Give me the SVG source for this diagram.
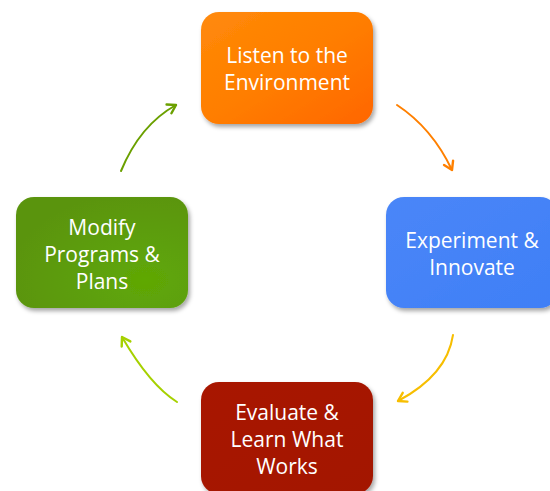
<svg xmlns="http://www.w3.org/2000/svg" width="550" height="491" viewBox="0 0 550 491">
<style>
.lbl{font-family:"Open Sans","Noto Sans","Liberation Sans",sans-serif;font-size:21px;fill:#ffffff;text-anchor:middle}
.arr{fill:none;stroke-width:2;stroke-linecap:round}
</style>
<defs>
<filter id="sh" x="-10%" y="-10%" width="130%" height="130%">
<feDropShadow dx="2" dy="3" stdDeviation="2" flood-color="#000" flood-opacity="0.35"/>
</filter>
<linearGradient id="gO" x1="0" y1="0" x2="1" y2="1">
<stop offset="0" stop-color="#FF8A0A"/><stop offset="0.5" stop-color="#FF7E00"/><stop offset="1" stop-color="#FF6600"/>
</linearGradient>
<linearGradient id="gB" x1="0" y1="0" x2="1" y2="1">
<stop offset="0" stop-color="#4A86F8"/><stop offset="1" stop-color="#3F7FF6"/>
</linearGradient>
<linearGradient id="gR" x1="0" y1="0" x2="1" y2="1">
<stop offset="0" stop-color="#A81800"/><stop offset="1" stop-color="#A31600"/>
</linearGradient>
<radialGradient id="gG" cx="0.75" cy="0.75" r="0.8">
<stop offset="0" stop-color="#5FA805"/><stop offset="1" stop-color="#5A9410"/>
</radialGradient>
<marker id="mO" markerUnits="userSpaceOnUse" markerWidth="20" markerHeight="20" refX="0" refY="0" viewBox="-10 -10 20 20" orient="auto" overflow="visible"><path d="M-8,-5 L0,0 L-8,5" fill="none" stroke="#FF8000" stroke-width="2.4" stroke-linecap="round" stroke-linejoin="round"/></marker>
<marker id="mY" markerUnits="userSpaceOnUse" markerWidth="20" markerHeight="20" refX="0" refY="0" viewBox="-10 -10 20 20" orient="auto" overflow="visible"><path d="M-8,-5 L0,0 L-8,5" fill="none" stroke="#F7BE00" stroke-width="2.4" stroke-linecap="round" stroke-linejoin="round"/></marker>
<marker id="mL" markerUnits="userSpaceOnUse" markerWidth="20" markerHeight="20" refX="0" refY="0" viewBox="-10 -10 20 20" orient="auto" overflow="visible"><path d="M-8,-5 L0,0 L-8,5" fill="none" stroke="#A6D100" stroke-width="2.4" stroke-linecap="round" stroke-linejoin="round"/></marker>
<marker id="mG" markerUnits="userSpaceOnUse" markerWidth="20" markerHeight="20" refX="0" refY="0" viewBox="-10 -10 20 20" orient="auto" overflow="visible"><path d="M-8,-5 L0,0 L-8,5" fill="none" stroke="#6BA000" stroke-width="2.4" stroke-linecap="round" stroke-linejoin="round"/></marker>
</defs>
<g id="connectors">
<path class="arr" d="M397,105 Q432,128 452,170" stroke="#FF8000" marker-end="url(#mO)"/>
<path class="arr" d="M453,335 Q447,375 398,401" stroke="#F7BE00" marker-end="url(#mY)"/>
<path class="arr" d="M177,402 Q150,385 122,337" stroke="#A6D100" marker-end="url(#mL)"/>
<path class="arr" d="M121,171 Q140,125 176,105" stroke="#6BA000" marker-end="url(#mG)"/>
</g>
<g id="node-listen">
<rect x="201" y="12" width="172" height="112" rx="18" fill="url(#gO)" filter="url(#sh)"/>
<text class="lbl" x="287" y="62.5">Listen to the</text>
<text class="lbl" x="287" y="89.5">Environment</text>
</g>
<g id="node-experiment">
<rect x="386" y="197" width="172" height="111" rx="18" fill="url(#gB)" filter="url(#sh)"/>
<text class="lbl" x="472" y="247.5">Experiment &amp;</text>
<text class="lbl" x="472" y="274.5">Innovate</text>
</g>
<g id="node-evaluate">
<rect x="201" y="382" width="172" height="112" rx="18" fill="url(#gR)" filter="url(#sh)"/>
<text class="lbl" x="287" y="420">Evaluate &amp;</text>
<text class="lbl" x="287" y="447">Learn What</text>
<text class="lbl" x="287" y="474">Works</text>
</g>
<g id="node-modify">
<rect x="16" y="197" width="172" height="111" rx="18" fill="url(#gG)" filter="url(#sh)"/>
<text class="lbl" x="102" y="235">Modify</text>
<text class="lbl" x="102" y="262">Programs &amp;</text>
<text class="lbl" x="102" y="289">Plans</text>
</g>
</svg>
